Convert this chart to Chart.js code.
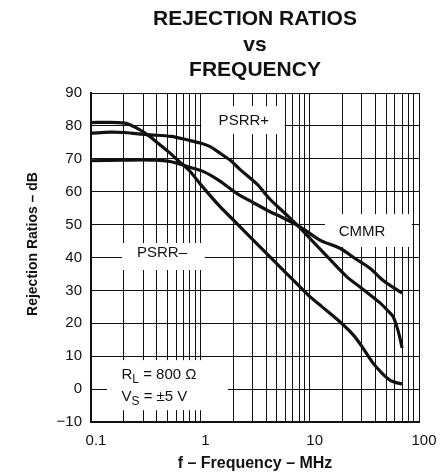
<!DOCTYPE html>
<html lang="en">
<head>
  <meta charset="UTF-8">
  <title>Rejection Ratios vs Frequency</title>
  <script src="https://cdn.jsdelivr.net/npm/chart.js"></script>
  <style>
    html, body { margin: 0; padding: 0; background: #fff; }
    canvas { display: block; }
  </style>
</head>
<body>
  <canvas id="rejectionChart" width="448" height="476"></canvas>

  <script>
    // Curve data (frequency in MHz, ratio in dB)
    const psrrMinusFreq = [0.1, 0.15, 0.2, 0.23, 0.27, 0.3, 0.35, 0.4, 0.5, 0.65, 0.8, 1, 1.5, 2.15, 3, 4.34, 6, 8, 10, 13, 19, 25, 30, 38, 47, 55, 63, 70];
    const psrrMinusDb = [81.0, 81.1, 80.9, 80.3, 79.1, 78.2, 76.6, 75.0, 72.4, 69.0, 66.3, 62.3, 55.6, 50.4, 45.5, 40.2, 35.5, 31.4, 28.2, 25.0, 20.4, 16.5, 13.0, 7.9, 4.5, 2.6, 1.9, 1.6];

    const psrrPlusFreq = [0.1, 0.15, 0.2, 0.27, 0.35, 0.54, 0.77, 1, 1.23, 1.5, 1.87, 2.3, 3.3, 4.34, 6, 8, 10, 14, 21.8, 30, 44, 52, 58, 64, 68, 70];
    const psrrPlusDb = [77.8, 78.1, 78.0, 77.6, 77.3, 76.8, 75.7, 74.8, 73.7, 71.8, 69.6, 66.8, 62.3, 57.7, 53.3, 49.3, 45.9, 40.8, 34.2, 30.6, 26.2, 23.8, 22.0, 18.0, 14.5, 12.5];

    const cmmrFreq = [0.1, 0.2, 0.38, 0.54, 0.77, 1.07, 1.5, 2.15, 3, 4.34, 5.3, 8.1, 12.4, 18.9, 26, 35.6, 47, 60, 70];
    const cmmrDb = [69.4, 69.6, 69.6, 69.1, 67.6, 66.1, 63.3, 59.5, 56.8, 53.9, 52.6, 49.4, 45.3, 42.8, 39.7, 36.7, 33.0, 30.6, 29.2];

    // Axis ticks
    const xGridTicks = [0.1, 0.2, 0.3, 0.4, 0.5, 0.6, 0.7, 0.8, 0.9,
                        1, 2, 3, 4, 5, 6, 7, 8, 9,
                        10, 20, 30, 40, 50, 60, 70, 80, 90, 100];
    const xTickLabels = [0.1, 1, 10, 100];
    const yTickMin = -10;
    const yTickMax = 90;
    const yTickStep = 10;

    const FONT = "'Liberation Sans', Arial, Helvetica, sans-serif";

    // In-plot labels: white box [fMin, fMax, dbMin, dbMax], anchor [f, db]
    const plotLabels = [
      { box: [1.02, 5.9, 77.5, 86], at: [2.5, 81.6], align: 'center', lines: [[['PSRR+']]] },
      { box: [0.192, 1.10, 36.2, 44.4], at: [0.446, 41.4], align: 'center', lines: [[['PSRR\u2013']]] },
      { box: [13.8, 86, 43.2, 53.2], at: [30.1, 47.8], align: 'center', lines: [[['CMMR']]] },
      { box: [0.14, 1.79, -6.4, 8.8], at: [0.19, 4.4], align: 'left', lineGap: 22,
        lines: [[['R'], ['L', true], [' = 800 \u03A9']], [['V'], ['S', true], [' = \u00B15 V']]] }
    ];

    const toPoints = (fs, ds) => fs.map((f, i) => ({ x: f, y: ds[i] }));

    const curveStyle = {
      borderColor: '#111',
      borderWidth: 3.2,
      pointRadius: 0,
      tension: 0.3,
      fill: false
    };

    // Draws white label boxes over the grid and the text inside them
    const labelPlugin = {
      id: 'plotLabels',
      beforeDatasetsDraw(chart) {
        const { ctx, scales: { x, y } } = chart;
        ctx.save();
        plotLabels.forEach(l => {
          const left = x.getPixelForValue(l.box[0]);
          const right = x.getPixelForValue(l.box[1]);
          const top = y.getPixelForValue(l.box[3]);
          const bottom = y.getPixelForValue(l.box[2]);
          ctx.fillStyle = '#fff';
          ctx.fillRect(left, top, right - left, bottom - top);

          ctx.fillStyle = '#111';
          ctx.textBaseline = 'middle';
          ctx.textAlign = 'left';
          l.lines.forEach((segs, i) => {
            const py = y.getPixelForValue(l.at[1]) + i * (l.lineGap || 0);
            let w = 0;
            segs.forEach(([t, sub]) => {
              ctx.font = (sub ? '12px ' : '15px ') + FONT;
              w += ctx.measureText(t).width;
            });
            let px = x.getPixelForValue(l.at[0]);
            if (l.align === 'center') px -= w / 2;
            segs.forEach(([t, sub]) => {
              ctx.font = (sub ? '12px ' : '15px ') + FONT;
              ctx.fillText(t, px, sub ? py + 5 : py);
              px += ctx.measureText(t).width;
            });
          });
        });
        ctx.restore();
      }
    };

    // Rotated y-axis title, placed like the original
    const yTitlePlugin = {
      id: 'yTitle',
      afterDraw(chart) {
        const { ctx } = chart;
        ctx.save();
        ctx.translate(33, 244);
        ctx.rotate(-Math.PI / 2);
        ctx.font = 'bold 14px ' + FONT;
        ctx.fillStyle = '#111';
        ctx.textAlign = 'center';
        ctx.textBaseline = 'middle';
        ctx.fillText('Rejection Ratios \u2013 dB', 0, 0);
        ctx.restore();
      }
    };

    const gridStyle = { color: '#111', lineWidth: 1, drawTicks: false };
    const borderStyle = { display: true, color: '#111', width: 2 };

    new Chart(document.getElementById('rejectionChart'), {
      type: 'line',
      data: {
        datasets: [
          { label: 'PSRR\u2013', data: toPoints(psrrMinusFreq, psrrMinusDb), ...curveStyle },
          { label: 'PSRR+', data: toPoints(psrrPlusFreq, psrrPlusDb), ...curveStyle },
          { label: 'CMMR', data: toPoints(cmmrFreq, cmmrDb), ...curveStyle }
        ]
      },
      options: {
        responsive: false,
        devicePixelRatio: 1,
        animation: false,
        layout: { padding: { left: 0, right: 29, top: 0, bottom: 0 } },
        plugins: {
          legend: { display: false },
          tooltip: { enabled: false },
          title: {
            display: true,
            fullSize: false,
            text: ['REJECTION RATIOS', 'vs', 'FREQUENCY'],
            color: '#111',
            font: { family: FONT, size: 21, weight: 'bold', lineHeight: 1.2 },
            padding: { top: 7, bottom: 10.4 }
          }
        },
        scales: {
          x: {
            type: 'logarithmic',
            min: 0.1,
            max: 100,
            afterBuildTicks: s => { s.ticks = xGridTicks.map(v => ({ value: v })); },
            afterFit: s => { s.height = 54; },
            grid: gridStyle,
            border: borderStyle,
            ticks: {
              autoSkip: false,
              maxRotation: 0,
              padding: 10,
              labelOffset: 5,
              color: '#111',
              font: { family: FONT, size: 15 },
              callback: v => xTickLabels.includes(v) ? String(v) : ''
            },
            title: {
              display: true,
              text: 'f \u2013 Frequency \u2013 MHz',
              color: '#111',
              font: { family: FONT, size: 16, weight: 'bold' },
              padding: { top: 0, bottom: 3 }
            }
          },
          y: {
            min: yTickMin,
            max: yTickMax,
            afterFit: s => { s.width = 91; },
            grid: gridStyle,
            border: borderStyle,
            ticks: {
              stepSize: yTickStep,
              padding: 9,
              color: '#111',
              font: { family: FONT, size: 15 },
              callback: v => v < 0 ? '\u2212' + Math.abs(v) : String(v)
            }
          }
        }
      },
      plugins: [labelPlugin, yTitlePlugin]
    });
  </script>
</body>
</html>
